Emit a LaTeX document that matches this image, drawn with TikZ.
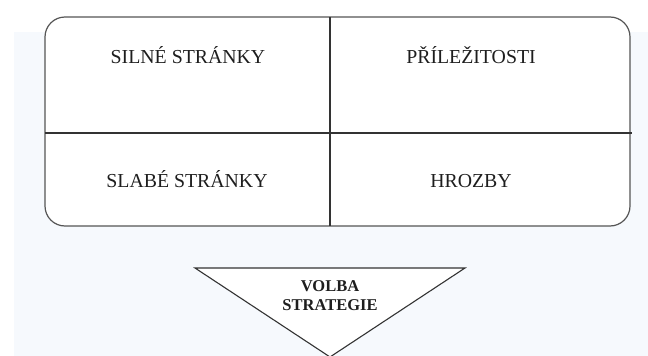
\documentclass[tikz,border=0pt]{standalone}
\usepackage{fontspec}
\setmainfont{Liberation Serif}
\definecolor{paper}{HTML}{F6F9FD}
\definecolor{frame}{HTML}{555555}
\definecolor{ink}{HTML}{1E1E1E}
\tikzset{
  swotlabel/.style={font=\fontsize{19.8}{22}\selectfont, text=ink, anchor=base, inner sep=0pt},
  choicelabel/.style={font=\bfseries\fontsize{16.5}{19}\selectfont, text=ink, align=center, anchor=base, inner sep=0pt},
  outline/.style={draw=frame, line width=1.2pt},
  divider/.style={draw=black!80, line width=1.2pt}
}
\begin{document}
\begin{tikzpicture}[x=1pt,y=-1pt]
  % page area and tinted sheet
  \useasboundingbox (0,0) rectangle (648,356);
  \fill[white] (0,0) rectangle (648,356);
  \fill[paper] (14,32) rectangle (648,356);

  % SWOT matrix
  \draw[outline, fill=white, rounded corners=20pt] (45,17) rectangle (630,226);
  \coordinate (vtop) at (330,17);
  \coordinate (vbot) at (330,226);
  \coordinate (hleft) at (45,133);
  \coordinate (hright) at (632,133);
  \draw[divider] (vtop) -- (vbot);
  \draw[divider] (hleft) -- (hright);

  \node[swotlabel] (strengths) at (188,63) {SILNÉ STRÁNKY};
  \node[swotlabel] (opportunities) at (471,63) {PŘÍLEŽITOSTI};
  \node[swotlabel] (weaknesses) at (187,187) {SLABÉ STRÁNKY};
  \node[swotlabel] (threats) at (471,187) {HROZBY};

  % strategy choice funnel
  \draw[outline, draw=black!80, line width=1.1pt, fill=white, line join=miter] (195,268) -- (465,268) -- (330,357) -- cycle;
  \node[choicelabel] (choice) at (330,310) {VOLBA\\STRATEGIE};
\end{tikzpicture}
\end{document}
